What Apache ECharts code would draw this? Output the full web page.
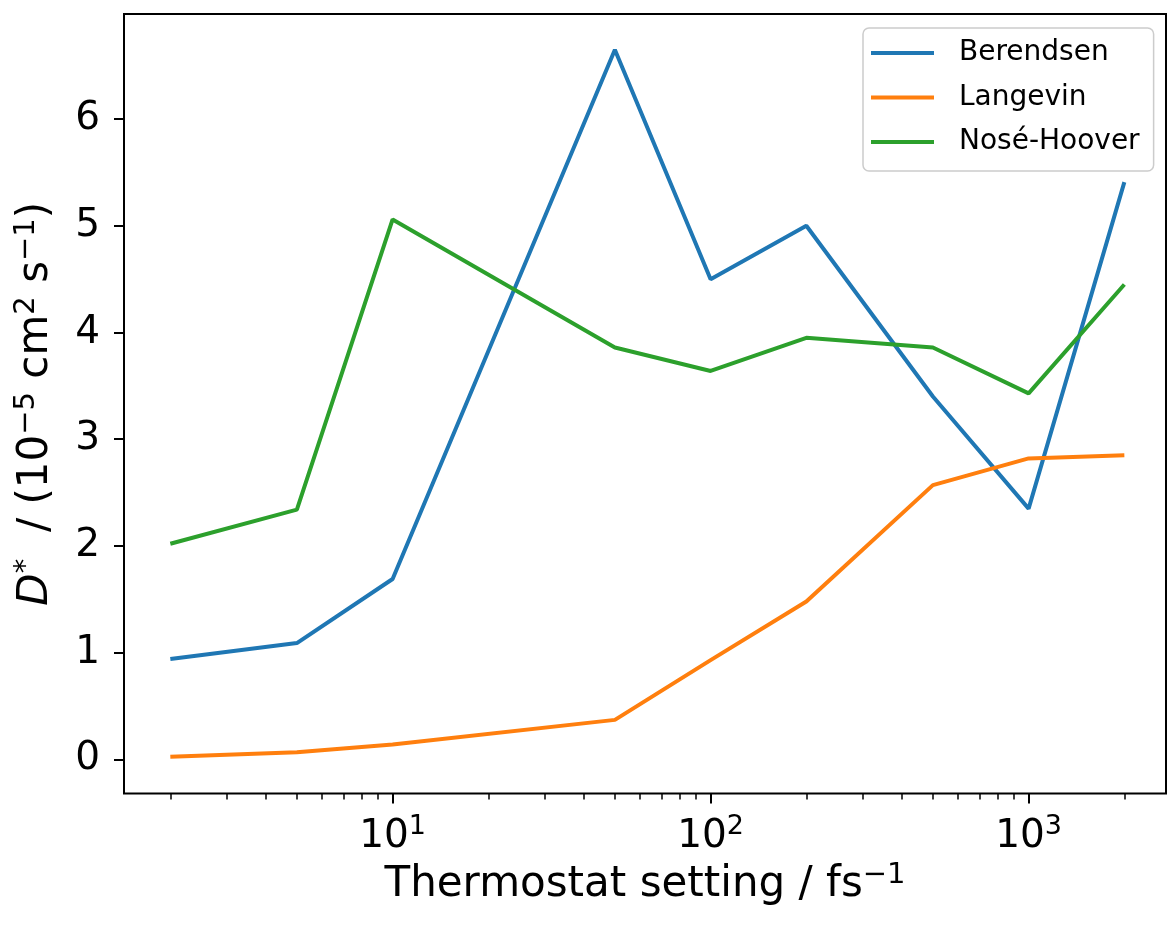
<!DOCTYPE html>
<html>
<head>
<meta charset="utf-8">
<script src="https://cdn.jsdelivr.net/npm/echarts@6/dist/echarts.min.js"></script>
<style>
  html, body { margin: 0; padding: 0; background: #fff; }
  #chart { width: 1167px; height: 926px; }
</style>
</head>
<body>
<div id="chart"></div>
<script>
// ---- data ----
const xValues = [2, 5, 10, 50, 100, 200, 500, 1000, 2000];
const berendsen = [0.94, 1.09, 1.69, 6.65, 4.50, 5.00, 3.40, 2.35, 5.41];
const langevin = [0.025, 0.066, 0.14, 0.37, 0.93, 1.48, 2.57, 2.82, 2.85];
const noseHoover = [2.02, 2.34, 5.06, 3.86, 3.64, 3.95, 3.86, 3.43, 4.45];
const seriesNames = ['Berendsen', 'Langevin', 'Nosé-Hoover'];
const yTicks = [0, 1, 2, 3, 4, 5, 6];
const xMajorTicks = [10, 100, 1000];
const xMinorTicks = [2, 3, 4, 5, 6, 7, 8, 9, 20, 30, 40, 50, 60, 70, 80, 90,
                     200, 300, 400, 500, 600, 700, 800, 900, 2000];
const xRange = [1.43, 2704];
const yRange = [-0.32, 6.985];

const colors = ['#1f77b4', '#ff7f0e', '#2ca02c'];
const FONT = 'DejaVu Sans';
const supStyle = { fontFamily: FONT, fontSize: 27, lineHeight: 27, verticalAlign: 'top', color: '#000' };
const nStyle = { fontFamily: FONT, fontSize: 39, lineHeight: 46, verticalAlign: 'middle', color: '#000' };
const nameSup = { fontFamily: FONT, fontSize: 29, lineHeight: 29, verticalAlign: 'top', color: '#000' };
const nameN = { fontFamily: FONT, fontSize: 42, lineHeight: 49, verticalAlign: 'middle', color: '#000' };
const nameIt = { fontFamily: FONT, fontSize: 42, lineHeight: 49, fontStyle: 'italic', verticalAlign: 'middle', color: '#000' };

const chart = echarts.init(document.getElementById('chart'), null, { renderer: 'canvas' });
const pairs = arr => xValues.map((x, i) => [x, arr[i]]);
const logRange = xRange.map(v => Math.log10(v));

chart.setOption({
  animation: false,
  backgroundColor: '#fff',
  grid: {
    left: 124, top: 14, right: 1, bottom: 132.5,
    show: true, borderColor: '#000', borderWidth: 2, backgroundColor: 'transparent'
  },
  legend: {
    orient: 'vertical',
    left: 863, top: 28,
    padding: [10, 14, 14, 8],
    itemGap: 14.5,
    itemWidth: 63, itemHeight: 4,
    icon: 'rect',
    borderColor: '#cccccc', borderWidth: 1.5, borderRadius: 6,
    backgroundColor: 'rgba(255,255,255,0.8)',
    textStyle: { fontFamily: FONT, fontSize: 28, lineHeight: 30, color: '#000', padding: [0, 0, 0, 20] },
    data: seriesNames
  },
  xAxis: [
    {
      type: 'log', logBase: 10, min: xRange[0], max: xRange[1], position: 'bottom',
      axisLine: { show: false }, axisTick: { show: false }, axisLabel: { show: false },
      splitLine: { show: false }
    },
    {
      type: 'value', min: logRange[0], max: logRange[1], position: 'bottom',
      axisLine: { show: false },
      axisTick: { show: true, length: 10, lineStyle: { color: '#000', width: 2 },
                  customValues: xMajorTicks.map(v => Math.log10(v)) },
      axisLabel: {
        show: true, margin: 20,
        customValues: xMajorTicks.map(v => Math.log10(v)),
        formatter: v => '{n|10}{sup|' + Math.round(v) + '}',
        rich: { n: nStyle, sup: supStyle }
      },
      splitLine: { show: false },
      name: '{n|Thermostat setting / fs}{sup|\u22121}',
      nameLocation: 'middle', nameGap: 55,
      nameTextStyle: { rich: { n: nameN, sup: nameSup } }
    },
    {
      type: 'value', min: logRange[0], max: logRange[1], position: 'bottom',
      axisLine: { show: false },
      axisTick: { show: true, length: 6, lineStyle: { color: '#000', width: 1.5 },
                  customValues: xMinorTicks.map(v => Math.log10(v)) },
      axisLabel: { show: false },
      splitLine: { show: false }
    }
  ],
  yAxis: {
    type: 'value', min: yRange[0], max: yRange[1],
    axisLine: { show: false },
    axisTick: { show: true, length: 10, lineStyle: { color: '#000', width: 2 }, customValues: yTicks },
    axisLabel: { show: true, margin: 24, customValues: yTicks, fontFamily: FONT, fontSize: 39, color: '#000' },
    splitLine: { show: false },
    name: '{it|D}{sup|*}{n|  / (10}{sup|\u22125}{n| cm}{sup|2}{n| s}{sup|\u22121}{n|)}',
    nameLocation: 'middle', nameGap: 63, nameRotate: 90,
    nameTextStyle: { rich: { n: nameN, it: nameIt, sup: nameSup } }
  },
  series: [
    { name: seriesNames[0], type: 'line', xAxisIndex: 0, data: pairs(berendsen), symbol: 'none',
      lineStyle: { width: 4, color: colors[0] }, itemStyle: { color: colors[0] } },
    { name: seriesNames[1], type: 'line', xAxisIndex: 0, data: pairs(langevin), symbol: 'none',
      lineStyle: { width: 4, color: colors[1] }, itemStyle: { color: colors[1] } },
    { name: seriesNames[2], type: 'line', xAxisIndex: 0, data: pairs(noseHoover), symbol: 'none',
      lineStyle: { width: 4, color: colors[2] }, itemStyle: { color: colors[2] } }
  ]
});
</script>
</body>
</html>
